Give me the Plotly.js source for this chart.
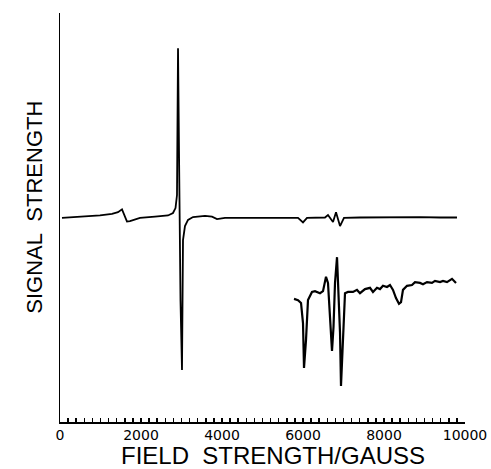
<!DOCTYPE html>
<html>
<head>
<meta charset="utf-8">
<script src="https://cdn.plot.ly/plotly-3.0.1.min.js"></script>
<style>html,body{margin:0;padding:0;background:#fff;}#chart{width:491px;height:469px;}</style>
</head>
<body>
<div id="chart"></div>
<script>
// Full spectrum (field in gauss, signal in arbitrary units)
var mainField = [49, 494, 988, 1284, 1432, 1531, 1605, 1654, 1728, 1975, 2346, 2667, 2790, 2852, 2889, 2914, 2938, 2975, 3012, 3037, 3086, 3161, 3284, 3580, 3753, 3877, 4074, 4691, 5432, 5877, 6000, 6099, 6543, 6617, 6741, 6815, 6914, 7012, 7407, 8148, 8642, 8889, 9383, 9802];
var mainSignal = [49.9, 50.1, 50.5, 50.9, 51.3, 52.0, 50.4, 49.0, 49.1, 49.9, 50.2, 50.5, 51.1, 52.3, 55.5, 91.4, 66.5, 29.8, 12.7, 44.5, 47.9, 49.4, 50.1, 50.4, 50.2, 49.6, 49.9, 49.9, 49.9, 49.9, 48.8, 49.9, 50.0, 50.6, 48.9, 51.3, 47.9, 49.9, 50.0, 50.1, 50.0, 50.1, 50.0, 50.0];

// Expanded high-field region (offset below)
var insetField = [5778, 5877, 5951, 6000, 6025, 6074, 6123, 6222, 6296, 6420, 6494, 6568, 6617, 6667, 6716, 6753, 6790, 6840, 6877, 6914, 6938, 6988, 7037, 7111, 7235, 7333, 7407, 7531, 7654, 7728, 7827, 7901, 7975, 8074, 8148, 8222, 8296, 8370, 8420, 8469, 8568, 8691, 8765, 8889, 8963, 9062, 9185, 9259, 9383, 9457, 9556, 9679, 9778];
var insetSignal = [30.1, 29.8, 29.1, 24.2, 13.2, 20.0, 29.8, 31.8, 32.0, 31.5, 32.0, 35.5, 34.0, 25.7, 17.4, 23.2, 34.0, 40.3, 32.3, 21.8, 8.8, 21.8, 31.5, 31.8, 31.8, 32.3, 31.5, 32.5, 32.8, 31.8, 32.8, 32.5, 33.3, 33.0, 33.5, 32.3, 30.3, 28.9, 29.3, 32.3, 33.3, 33.5, 34.2, 34.0, 33.7, 34.2, 34.0, 34.5, 34.2, 34.5, 34.2, 35.0, 34.0];

var xTickVals = [0, 2000, 4000, 6000, 8000, 10000];
var xTickText = ['0', '2000', '4000', '6000', '8000', '10000'];
var xTitle = 'FIELD  STRENGTH/GAUSS';
var yTitle = 'SIGNAL  STRENGTH';

var traces = [
  {x: mainField, y: mainSignal, mode: 'lines', line: {color: '#000', width: 1.8}, hoverinfo: 'none'},
  {x: insetField, y: insetSignal, mode: 'lines', line: {color: '#000', width: 2.2}, hoverinfo: 'none'}
];

var layout = {
  width: 491, height: 469,
  margin: {l: 60, r: 26, t: 13, b: 47},
  paper_bgcolor: '#fff', plot_bgcolor: '#fff',
  showlegend: false,
  xaxis: {
    range: [0, 10000], showgrid: false, zeroline: false,
    showline: true, linecolor: '#000', linewidth: 1.5,
    ticks: 'inside', ticklen: 4, tickwidth: 1.5, tickcolor: '#000',
    tickvals: xTickVals, ticktext: xTickText,
    minor: {dtick: 200, tick0: 0, ticks: 'inside', ticklen: 4, tickwidth: 1.5, tickcolor: '#000', showgrid: false},
    tickfont: {family: 'DejaVu Sans', size: 14, color: '#000'}
  },
  yaxis: {
    range: [0, 100], showgrid: false, zeroline: false,
    showline: true, linecolor: '#000', linewidth: 1.5,
    ticks: '', showticklabels: false
  },
  annotations: [
    {text: xTitle, xref: 'paper', yref: 'paper', x: 0.526, y: -0.081, xanchor: 'center', yanchor: 'middle', showarrow: false, font: {family: 'Liberation Sans', size: 24, color: '#000'}},
    {text: yTitle, xref: 'paper', yref: 'paper', x: -0.062, y: 0.526, xanchor: 'center', yanchor: 'middle', textangle: -90, showarrow: false, font: {family: 'Liberation Sans', size: 22, color: '#000'}}
  ]
};

Plotly.newPlot('chart', traces, layout, {staticPlot: true, displayModeBar: false});
</script>
</body>
</html>
